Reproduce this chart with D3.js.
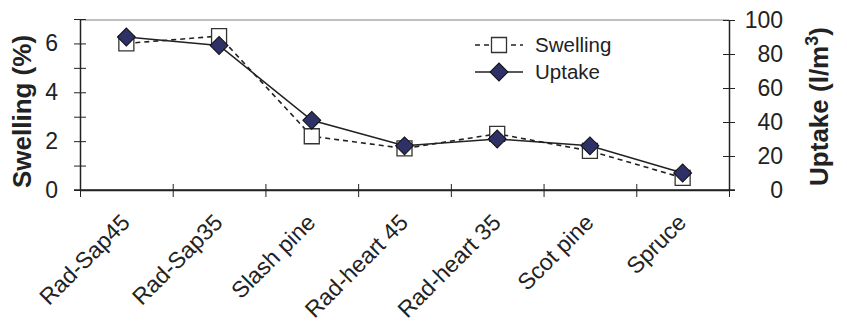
<!DOCTYPE html>
<html>
<head>
<meta charset="utf-8">
<script src="https://cdn.jsdelivr.net/npm/d3@7"></script>
<style>
  body { margin: 0; background: #fff; }
  text { font-family: "Liberation Sans", Arial, sans-serif; fill: #222; }
</style>
</head>
<body>
<div class="chart"></div>
<script>
const categories = ["Rad-Sap45", "Rad-Sap35", "Slash pine", "Rad-heart 45", "Rad-heart 35", "Scot pine", "Spruce"];
const swelling = [6.0, 6.3, 2.2, 1.7, 2.3, 1.6, 0.5];
const uptake = [90, 85, 41, 26, 30, 26, 10];
const leftTicks = [0, 1, 2, 3, 4, 5, 6, 7];
const rightTicks = [0, 20, 40, 60, 80, 100];

const width = 847;
const height = 329;
const margin = { top: 19, right: 118, bottom: 139, left: 80 };
const plotRight = width - margin.right;
const plotBottom = height - margin.bottom;

const svg = d3.select(".chart")
  .append("svg")
  .attr("width", width)
  .attr("height", height);

const x = d3.scaleBand()
  .domain(categories)
  .range([margin.left, plotRight]);

const xIdx = d3.scaleLinear()
  .domain([0, categories.length])
  .range([margin.left, plotRight]);

const yL = d3.scaleLinear().domain([0, 7]).range([plotBottom, margin.top]);
const yR = d3.scaleLinear().domain([0, 100]).range([plotBottom, margin.top + 1]);

// top frame line
svg.append("line")
  .attr("x1", margin.left).attr("x2", plotRight)
  .attr("y1", yR(100)).attr("y2", yR(100))
  .attr("stroke", "#808080")
  .attr("stroke-width", 1.2);

const fixTicks = (g, a, b, dir) => {
  g.select(".domain").attr("stroke", "#222").attr("stroke-width", 1.5);
  g.selectAll(".tick line")
    .attr("stroke", "#222")
    .attr(dir + "1", a)
    .attr(dir + "2", b);
  g.selectAll(".tick text")
    .style("font-size", "23px")
    .attr("fill", "#222");
};

// x axis
svg.append("g")
  .attr("transform", `translate(0,${plotBottom})`)
  .call(d3.axisBottom(xIdx).tickValues(d3.range(categories.length + 1)).tickFormat("").tickSizeOuter(0))
  .call(g => fixTicks(g, -6, 7, "y"));

svg.append("line")
  .attr("x1", margin.left - 6).attr("x2", plotRight + 6)
  .attr("y1", plotBottom).attr("y2", plotBottom)
  .attr("stroke", "#222").attr("stroke-width", 1.5);

svg.append("g")
  .selectAll("text")
  .data(categories)
  .enter()
  .append("text")
  .attr("transform", d => `translate(${x(d) + x.bandwidth() / 2 + 5},${plotBottom + 34}) rotate(-45)`)
  .attr("text-anchor", "end")
  .style("font-size", "23px")
  .text(d => d);

// left axis
svg.append("g")
  .attr("transform", `translate(${margin.left},0)`)
  .call(d3.axisLeft(yL).tickValues(leftTicks).tickFormat(d => d % 2 === 0 ? d : "").tickSizeOuter(0).tickPadding(16))
  .call(g => fixTicks(g, -6, 6, "x"));

// right axis
svg.append("g")
  .attr("transform", `translate(${plotRight},0)`)
  .call(d3.axisRight(yR).tickValues(rightTicks).tickSizeOuter(0).tickPadding(0))
  .call(g => fixTicks(g, -6, 6, "x"))
  .call(g => g.selectAll(".tick text").attr("text-anchor", "end").attr("x", 54));

// axis titles
svg.append("text")
  .attr("transform", `translate(31,${(margin.top + plotBottom) / 2 + 7}) rotate(-90)`)
  .attr("text-anchor", "middle")
  .style("font-size", "26px")
  .style("font-weight", "bold")
  .text("Swelling (%)");

const rt = svg.append("text")
  .attr("transform", `translate(828,${(margin.top + plotBottom) / 2 + 2}) rotate(-90)`)
  .attr("text-anchor", "middle")
  .style("font-size", "26px")
  .style("font-weight", "bold");
rt.append("tspan").text("Uptake (l/m");
rt.append("tspan").attr("dy", -10).style("font-size", "18px").text("3");
rt.append("tspan").attr("dy", 10).text(")");

// lines
const cx = i => x(categories[i]) + x.bandwidth() / 2;

svg.append("path")
  .datum(swelling)
  .attr("fill", "none")
  .attr("stroke", "#222")
  .attr("stroke-width", 1.6)
  .attr("stroke-dasharray", "5,4")
  .attr("d", d3.line().x((d, i) => cx(i)).y(d => yL(d)));

svg.append("path")
  .datum(uptake)
  .attr("fill", "none")
  .attr("stroke", "#222")
  .attr("stroke-width", 1.6)
  .attr("d", d3.line().x((d, i) => cx(i)).y(d => yR(d)));

const squareSym = d3.symbol().type(d3.symbolSquare).size(225);
const diamondSym = d3.symbol().type(d3.symbolSquare).size(160);

svg.append("g")
  .selectAll("path")
  .data(swelling)
  .enter()
  .append("path")
  .attr("d", squareSym)
  .attr("transform", (d, i) => `translate(${cx(i)},${yL(d)})`)
  .attr("fill", "#fff")
  .attr("stroke", "#333")
  .attr("stroke-width", 1.3);

svg.append("g")
  .selectAll("path")
  .data(uptake)
  .enter()
  .append("path")
  .attr("d", diamondSym)
  .attr("transform", (d, i) => `translate(${cx(i)},${yR(d)}) rotate(45)`)
  .attr("fill", "#2e3165")
  .attr("stroke", "#111")
  .attr("stroke-width", 1);

// legend
const legend = svg.append("g").attr("transform", "translate(475,45)");

legend.append("line")
  .attr("x1", 0).attr("x2", 48).attr("y1", 0).attr("y2", 0)
  .attr("stroke", "#222").attr("stroke-width", 1.6).attr("stroke-dasharray", "5,4");
legend.append("path")
  .attr("d", squareSym)
  .attr("transform", "translate(24,0)")
  .attr("fill", "#fff").attr("stroke", "#333").attr("stroke-width", 1.3);
legend.append("text")
  .attr("x", 60).attr("y", 7)
  .style("font-size", "20.5px")
  .text("Swelling");

legend.append("line")
  .attr("x1", 0).attr("x2", 48).attr("y1", 27).attr("y2", 27)
  .attr("stroke", "#222").attr("stroke-width", 1.6);
legend.append("path")
  .attr("d", diamondSym)
  .attr("transform", "translate(24,27) rotate(45)")
  .attr("fill", "#2e3165").attr("stroke", "#111").attr("stroke-width", 1);
legend.append("text")
  .attr("x", 60).attr("y", 34)
  .style("font-size", "20.5px")
  .text("Uptake");
</script>
</body>
</html>
